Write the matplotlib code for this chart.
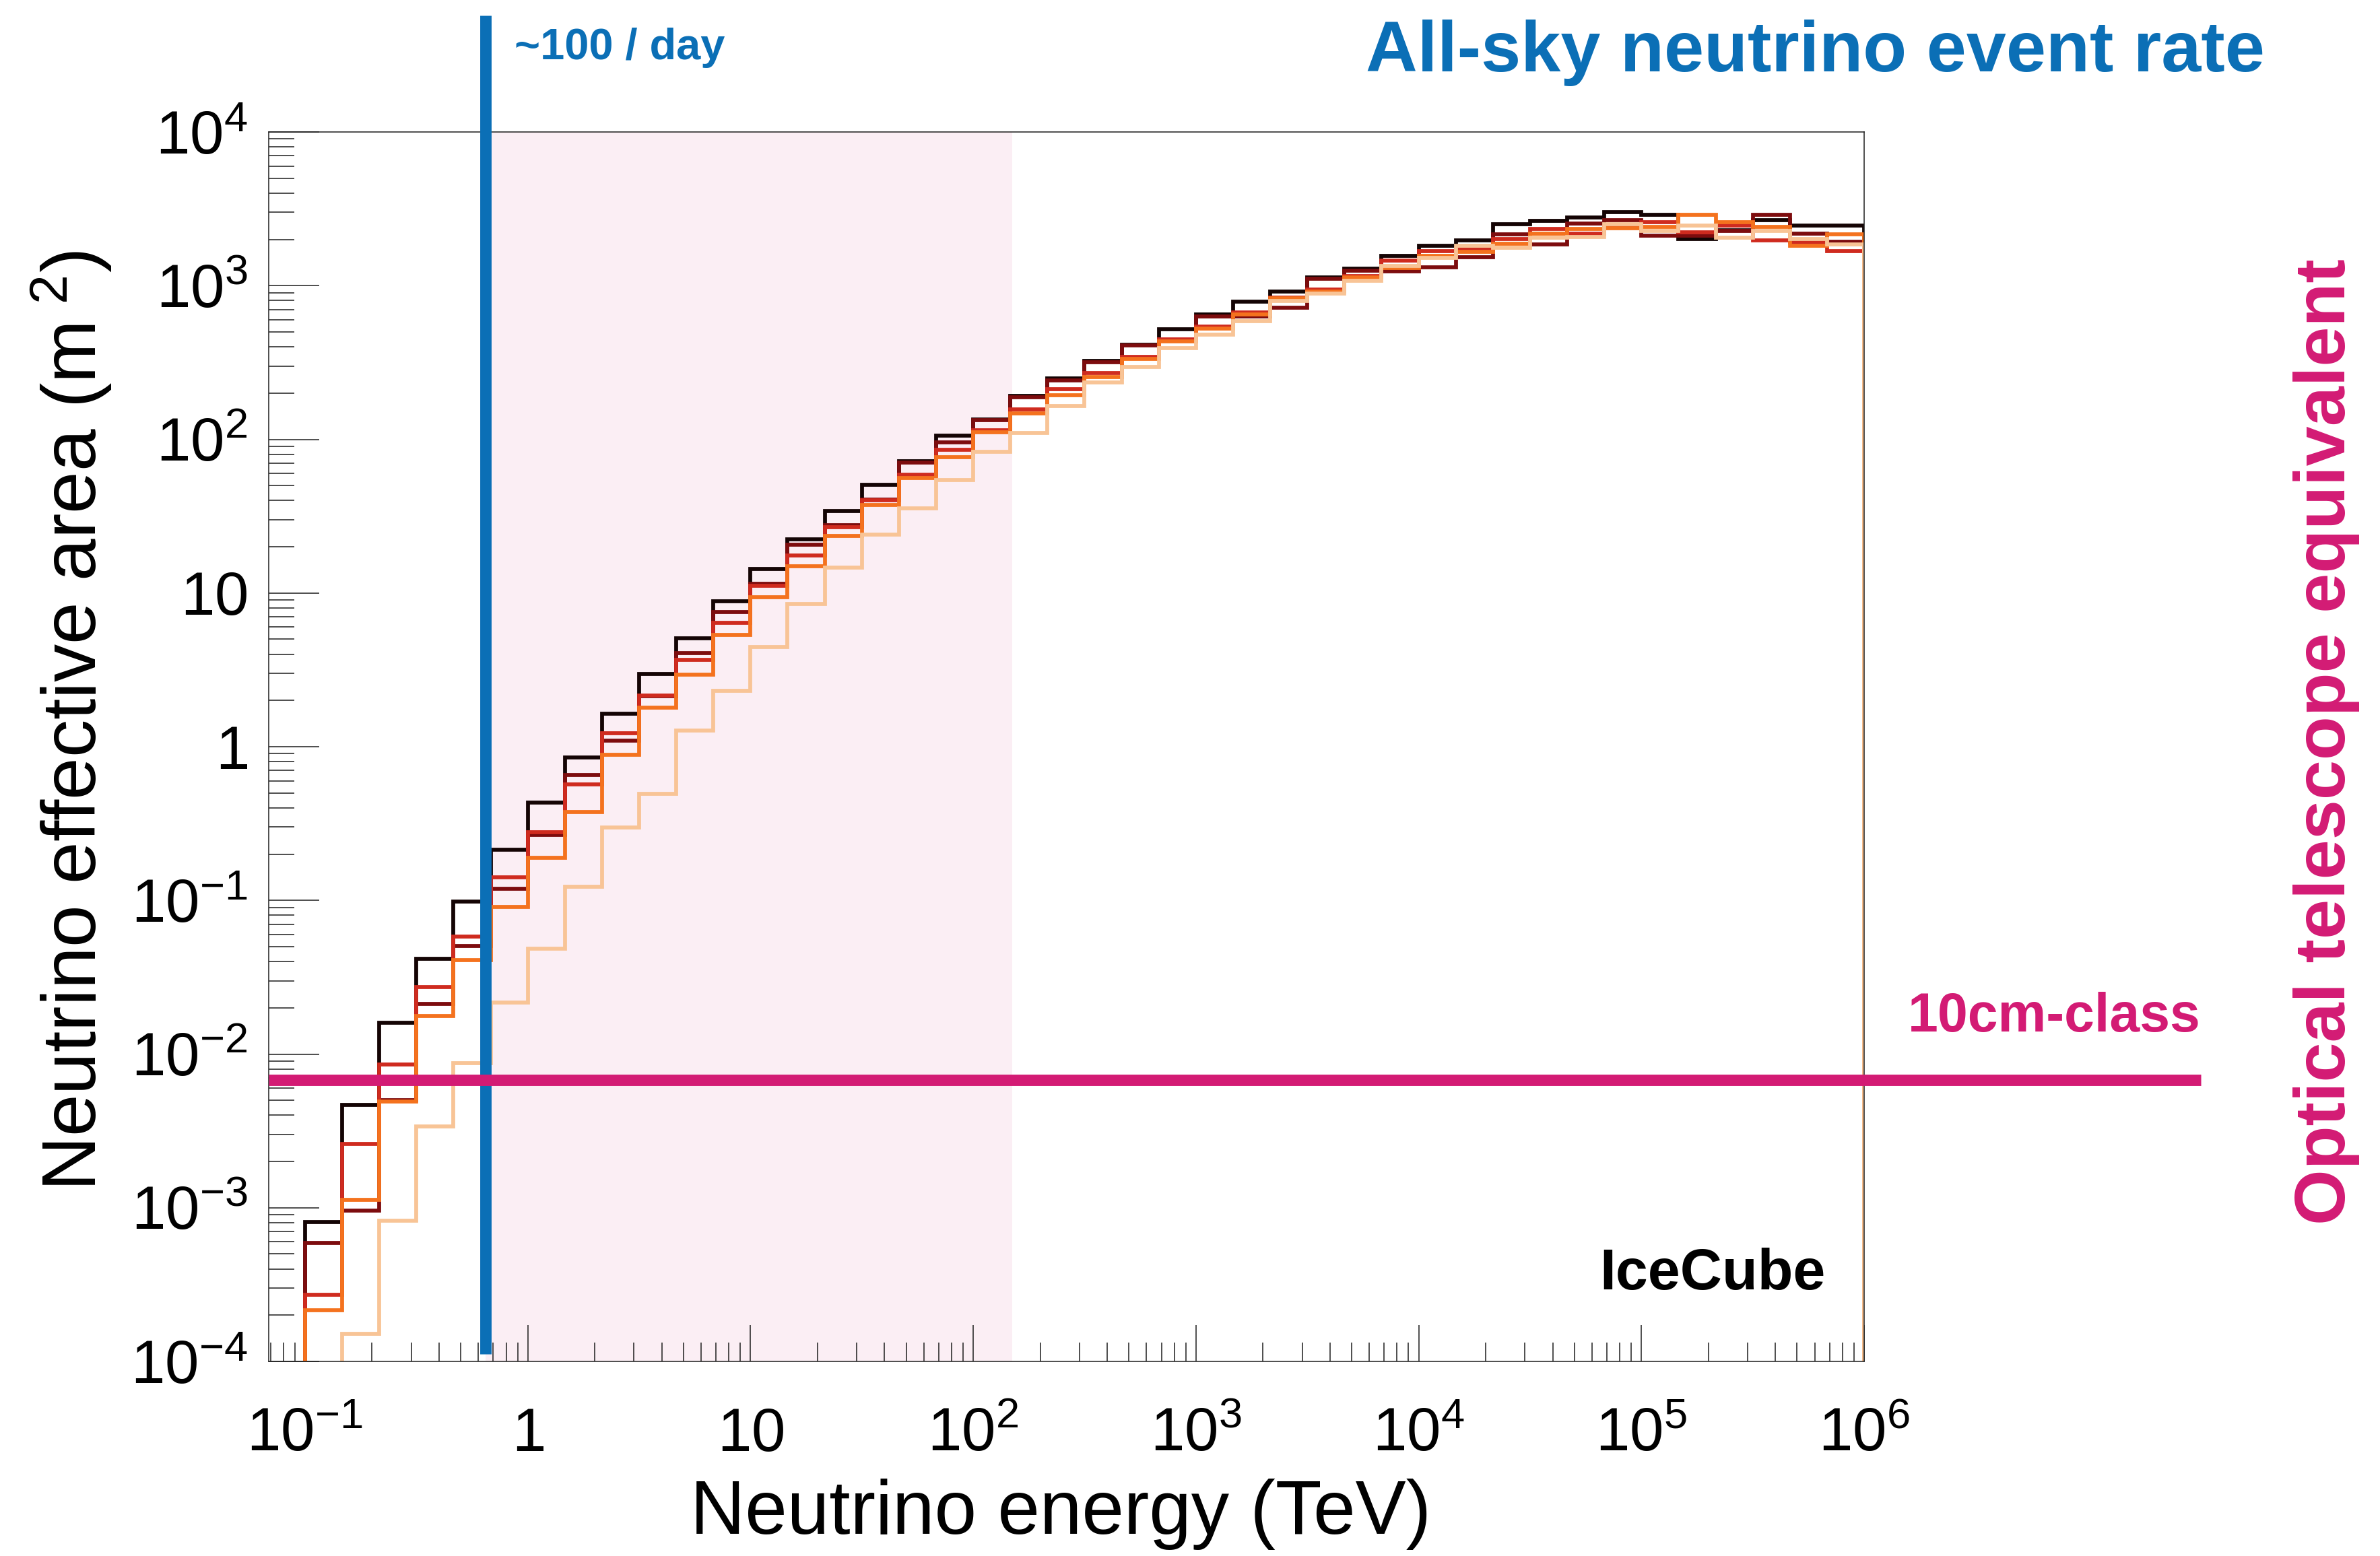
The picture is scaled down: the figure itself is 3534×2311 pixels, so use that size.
import numpy as np
import matplotlib.pyplot as plt
import matplotlib.transforms as mtransforms
from matplotlib.ticker import LogLocator, NullFormatter

plt.rcParams['font.family'] = ['Liberation Sans', 'DejaVu Sans']
plt.rcParams['mathtext.fontset'] = 'custom'
plt.rcParams['mathtext.rm'] = 'Liberation Sans'
plt.rcParams['mathtext.it'] = 'Liberation Sans:italic'
plt.rcParams['mathtext.bf'] = 'Liberation Sans:bold'

# energy binning: 6 bins per decade, 0.1 TeV .. 1e6 TeV
edges = np.logspace(-1, 6, 43)

# effective area per bin (m^2), one histogram per sample
area_black = [8.1e-4, 4.66e-3, 0.016, 0.0417, 0.0984, 0.213, 0.431, 0.849, 1.64, 2.96,
              5.07, 8.83, 14.4, 22.3, 34.0, 50.6, 71.9, 106, 135, 191,
              248, 324, 414, 519, 652, 783, 912, 1135, 1288, 1560,
              1820, 1963, 2518, 2630, 2786, 3013, 2884, 2009, 2301, 2679,
              2460, 2460]
area_maroon = [5.9e-4, 9.6e-4, 5.0e-3, 0.0212, 0.0505, 0.119, 0.267, 0.653, 1.10, 2.14,
               4.06, 7.55, 11.5, 20.7, 27.6, 40.6, 70.8, 95.1, 133, 188,
               242, 316, 407, 437, 630, 630, 719, 1107, 1253, 1233,
               1321, 1538, 2153, 1849, 2547, 2679, 2113, 2113, 2265, 2884,
               2173, 1923]
area_red = [2.72e-4, 2.6e-3, 8.55e-3, 0.0272, 0.058, 0.141, 0.278, 0.566, 1.22, 2.16,
            3.67, 6.38, 11.2, 17.5, 26.7, 40.2, 58.7, 85.1, 115, 156,
            211, 270, 344, 448, 541, 673, 838, 942, 1153, 1449,
            1671, 1730, 2009, 2339, 2188, 2421, 2588, 2223, 2460, 1977,
            1910, 1683]
area_orange = [2.16e-4, 1.13e-3, 4.93e-3, 0.0176, 0.041, 0.0902, 0.190, 0.374, 0.887, 1.79,
               2.93, 5.33, 9.42, 15.0, 23.5, 37.3, 55.8, 76.2, 111, 147,
               194, 254, 335, 436, 524, 652, 824, 918, 1127, 1297,
               1563, 1660, 1879, 2188, 2339, 2355, 2421, 2884, 2588, 2421,
               1820, 2153]
area_peach = [5e-5, 1.51e-4, 8.2e-4, 3.39e-3, 8.77e-3, 0.0216, 0.0486, 0.123, 0.297, 0.494,
              1.27, 2.32, 4.47, 8.49, 14.6, 24.1, 35.5, 54.5, 83.2, 110,
              164, 234, 296, 394, 481, 589, 796, 887, 1079, 1343,
              1510, 1820, 1758, 2046, 2080, 2500, 2265, 2460, 2046, 2265,
              2009, 1849]

series = [area_black, area_maroon, area_red, area_orange, area_peach]
colors = ['#140404', '#7d0c0e', '#cf2b1f', '#f4721e', '#f8c496']

rate_energy = 0.645      # TeV, ~100 events/day above this
band_max = 150.0         # TeV, upper end of shaded band
optical_area = 6.8e-3    # m^2, 10cm-class telescope

xtick_exp = [-1, 0, 1, 2, 3, 4, 5, 6]
ytick_exp = [-4, -3, -2, -1, 0, 1, 2, 3, 4]

blue = '#0b6fb6'
magenta = '#d31b74'

W, H = 3534, 2311
fig = plt.figure(figsize=(W / 225, H / 225), dpi=225)
ax = fig.add_axes([399 / W, 1 - 2022 / H, (2768 - 399) / W, (2022 - 196) / H])

ax.set_xscale('log')
ax.set_yscale('log')
ax.set_xlim(0.0687, 1e6)
ax.set_ylim(1e-4, 1e4)

ax.axvspan(rate_energy, band_max, color='#fbeef4', lw=0, zorder=0)

for vals, c in zip(series, colors):
    st = ax.stairs(vals, edges, baseline=1e-6, color=c, lw=1.85, zorder=2)
    st.set_joinstyle('miter')

# vertical event-rate marker and horizontal optical reference
ax.plot([rate_energy, rate_energy], [0.006, 1.095], transform=ax.get_xaxis_transform(),
        color=blue, lw=5.4, solid_capstyle='butt', clip_on=False, zorder=4)
ax.plot([0, 1.211], [optical_area, optical_area], transform=ax.get_yaxis_transform(),
        color=magenta, lw=5.4, solid_capstyle='butt', clip_on=False, zorder=5)

# ROOT-like frame and ticks
for sp in ax.spines.values():
    sp.set_linewidth(0.5)
    sp.set_color('#222222')
ax.xaxis.set_major_locator(LogLocator(base=10, numticks=20))
ax.xaxis.set_minor_locator(LogLocator(base=10, subs=np.arange(2, 10), numticks=20))
ax.yaxis.set_major_locator(LogLocator(base=10, numticks=20))
ax.yaxis.set_minor_locator(LogLocator(base=10, subs=np.arange(2, 10), numticks=20))
ax.xaxis.set_major_formatter(NullFormatter())
ax.xaxis.set_minor_formatter(NullFormatter())
ax.yaxis.set_major_formatter(NullFormatter())
ax.yaxis.set_minor_formatter(NullFormatter())
ax.tick_params(which='both', direction='in', width=0.5, color='#222222',
               top=False, right=False)
ax.tick_params(axis='x', which='major', length=17.3)
ax.tick_params(axis='x', which='minor', length=9)
ax.tick_params(axis='y', which='major', length=24)
ax.tick_params(axis='y', which='minor', length=12.2)


def power_label(e):
    if e == 0:
        return r'$1$'
    if e == 1:
        return r'$10$'
    return r'$10^{%d}$' % e


xt = ax.get_xaxis_transform() + mtransforms.ScaledTranslation(0, -42.6 / 72, fig.dpi_scale_trans)
for e in xtick_exp:
    ax.text(10.0 ** e, 0, power_label(e), transform=xt, ha='center', va='baseline',
            fontsize=29)
yt = ax.get_yaxis_transform() + mtransforms.ScaledTranslation(-10 / 72, -10.4 / 72, fig.dpi_scale_trans)
for e in ytick_exp:
    ax.text(0, 10.0 ** e, power_label(e), transform=yt, ha='right', va='baseline',
            fontsize=29)

ax.set_xlabel('Neutrino energy (TeV)', fontsize=36)
ax.xaxis.set_label_coords(0.4964, -0.1243)
ax.xaxis.label.set_va('center')
ax.set_ylabel(r'Neutrino effective area (m$^{\ 2}$)', fontsize=36)
ax.yaxis.set_label_coords(-0.1237, 0.5208)
ax.yaxis.label.set_va('center')

# annotations
fig.text(3363 / W, 1 - 106 / H, 'All-sky neutrino event rate', color=blue,
         fontsize=34, fontweight='bold', ha='right', va='baseline')
fig.text(764 / W, 1 - 88 / H, '~100 / day', color=blue,
         fontsize=20.8, fontweight='bold', ha='left', va='baseline')
fig.text(2833 / W, 1 - 1532 / H, '10cm-class', color=magenta,
         fontsize=25.8, fontweight='bold', ha='left', va='baseline')
fig.text(3455 / W, 1 - 1102 / H, 'Optical telescope equivalent', color=magenta,
         fontsize=34, fontweight='bold', ha='center', va='center', rotation=90)
fig.text(2711 / W, 1 - 1915 / H, 'IceCube', color='black',
         fontsize=27.6, fontweight='bold', ha='right', va='baseline')

fig.savefig('out.png', dpi=225)
